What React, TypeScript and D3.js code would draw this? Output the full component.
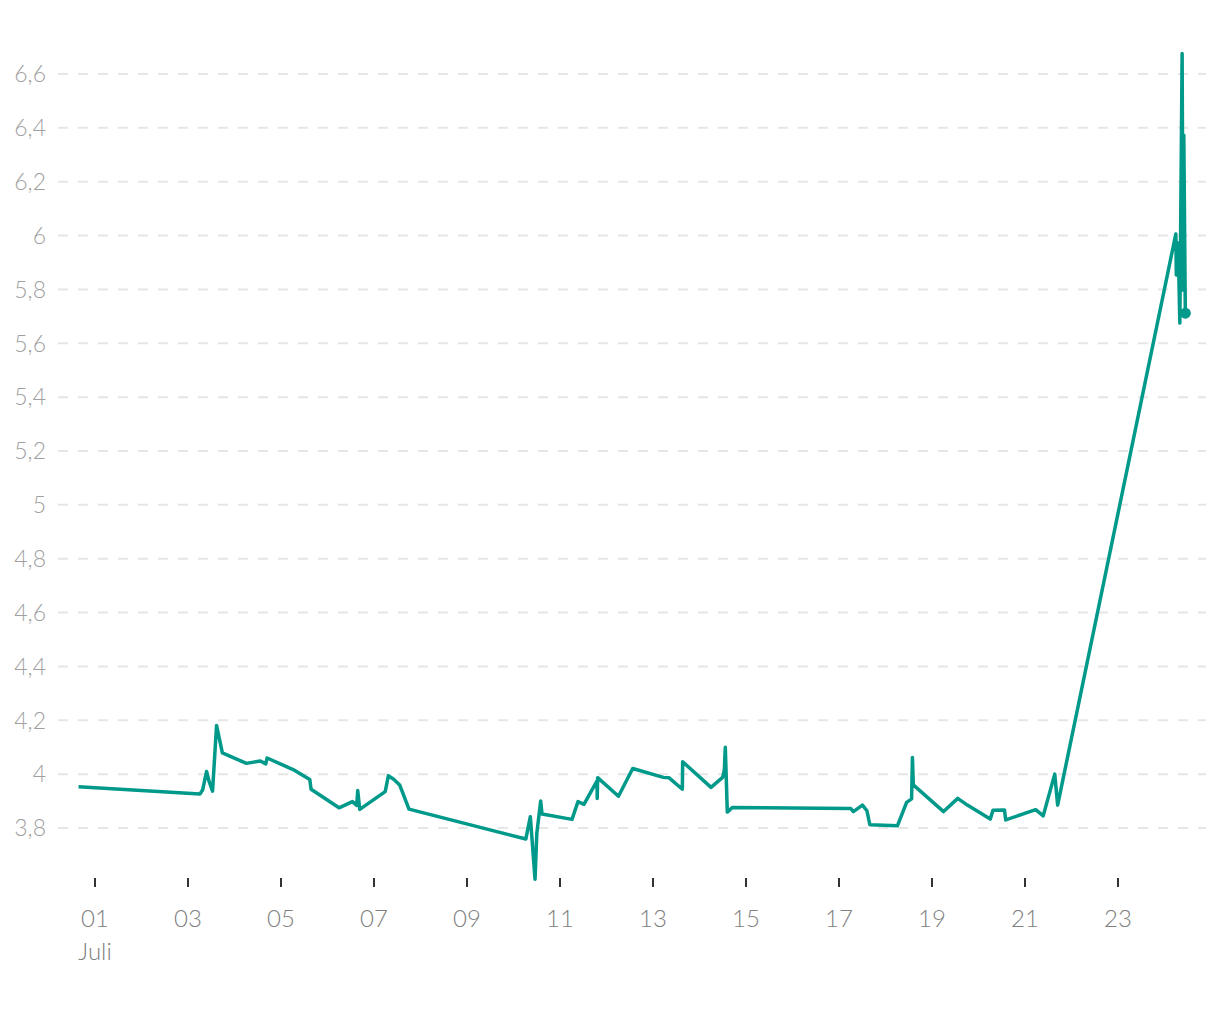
import React from "react";
import * as d3 from "d3";

// Day of July (fractional, 1 = 1 July 00:00) and value
const days: number[] = [
  0.646, 3.256, 3.314, 3.4, 3.455, 3.528, 3.614, 3.739, 4.255, 4.555, 4.673, 4.701,
  5.26, 5.619, 5.647, 6.248, 6.536, 6.628, 6.65, 6.693, 7.241, 7.309, 7.423, 7.552,
  7.752, 10.265, 10.362, 10.463, 10.501, 10.585, 10.613, 11.258, 11.387, 11.515,
  11.797, 11.8, 11.81, 12.257, 12.564, 13.223, 13.341, 13.631, 13.638, 14.248,
  14.497, 14.534, 14.555, 14.598, 14.706, 17.255, 17.309, 17.505, 17.601, 17.663,
  18.256, 18.454, 18.561, 18.579, 18.598, 19.249, 19.554, 19.76, 20.252, 20.312,
  20.559, 20.585, 21.23, 21.391, 21.64, 21.702, 24.244, 24.254, 24.293, 24.33,
  24.379, 24.4, 24.415, 24.448,
];
const values: number[] = [
  3.953, 3.926, 3.941, 4.01, 3.972, 3.937, 4.181, 4.079, 4.04, 4.049, 4.038, 4.06,
  4.017, 3.98, 3.944, 3.875, 3.898, 3.884, 3.939, 3.869, 3.935, 3.994, 3.981, 3.96,
  3.87, 3.759, 3.842, 3.61, 3.78, 3.9, 3.852, 3.832, 3.898, 3.888,
  3.975, 3.91, 3.987, 3.918, 4.021, 3.988, 3.987, 3.944, 4.046, 3.951,
  3.988, 4.015, 4.1, 3.859, 3.876, 3.872, 3.861, 3.885, 3.864, 3.812,
  3.808, 3.895, 3.908, 4.062, 3.96, 3.861, 3.91, 3.885, 3.833, 3.866,
  3.867, 3.83, 3.868, 3.845, 4.0, 3.885, 6.006, 5.854, 5.972, 5.675,
  6.676, 5.798, 6.373, 5.712,
];

const yTicks: number[] = [3.8, 4, 4.2, 4.4, 4.6, 4.8, 5, 5.2, 5.4, 5.6, 5.8, 6, 6.2, 6.4, 6.6];
const xTickDays: number[] = [1, 3, 5, 7, 9, 11, 13, 15, 17, 19, 21, 23];
const monthLabel = "Juli";

const DAY = 86400000;
const base = new Date(2024, 6, 1).getTime();
const toDate = (d: number) => new Date(base + (d - 1) * DAY);

export default function App() {
  const width = 1220;
  const height = 1020;
  const x = d3.scaleTime().domain([toDate(1), toDate(23)]).range([95, 1118]);
  const y = d3.scaleLinear().domain([3.8, 6.6]).range([828, 74]);
  const data = days.map((d, i) => ({ date: toDate(d), value: values[i] }));
  const line = d3
    .line<{ date: Date; value: number }>()
    .x((p) => x(p.date))
    .y((p) => y(p.value));
  const fmtY = (v: number) => d3.format("~g")(+v.toFixed(1)).replace(".", ",");
  const fmtX = d3.timeFormat("%d");
  const last = data[data.length - 1];
  const font = "Lato, 'Open Sans', sans-serif";

  return (
    <svg
      width={width}
      height={height}
      style={{ position: "absolute", left: 0, top: 0, background: "#fff" }}
    >
      <g>
        {yTicks.map((t) => (
          <g key={t}>
            <line
              x1={58}
              x2={1206}
              y1={y(t)}
              y2={y(t)}
              stroke="#e6e6e6"
              strokeWidth={2}
              strokeDasharray="10 10"
            />
            <text
              x={46}
              y={y(t)}
              dy="0.36em"
              textAnchor="end"
              fontFamily={font}
              fontWeight={300}
              fontSize={23}
              fill="#a0a0a0"
            >
              {fmtY(t)}
            </text>
          </g>
        ))}
      </g>
      <g>
        {xTickDays.map((d) => {
          const px = x(toDate(d));
          return (
            <g key={d}>
              <line x1={px} x2={px} y1={878} y2={887} stroke="#333" strokeWidth={2} />
              <text
                x={px}
                y={927}
                textAnchor="middle"
                fontFamily={font}
                fontWeight={300}
                fontSize={24}
                fill="#808080"
              >
                {fmtX(toDate(d))}
              </text>
            </g>
          );
        })}
        <text
          x={x(toDate(1))}
          y={960}
          textAnchor="middle"
          fontFamily={font}
          fontWeight={300}
          fontSize={24}
          fill="#808080"
        >
          {monthLabel}
        </text>
      </g>
      <path
        d={line(data) || ""}
        fill="none"
        stroke="#00998a"
        strokeWidth={3.5}
        strokeLinejoin="round"
      />
      <circle cx={x(last.date)} cy={y(last.value)} r={5.5} fill="#00998a" />
    </svg>
  );
}
